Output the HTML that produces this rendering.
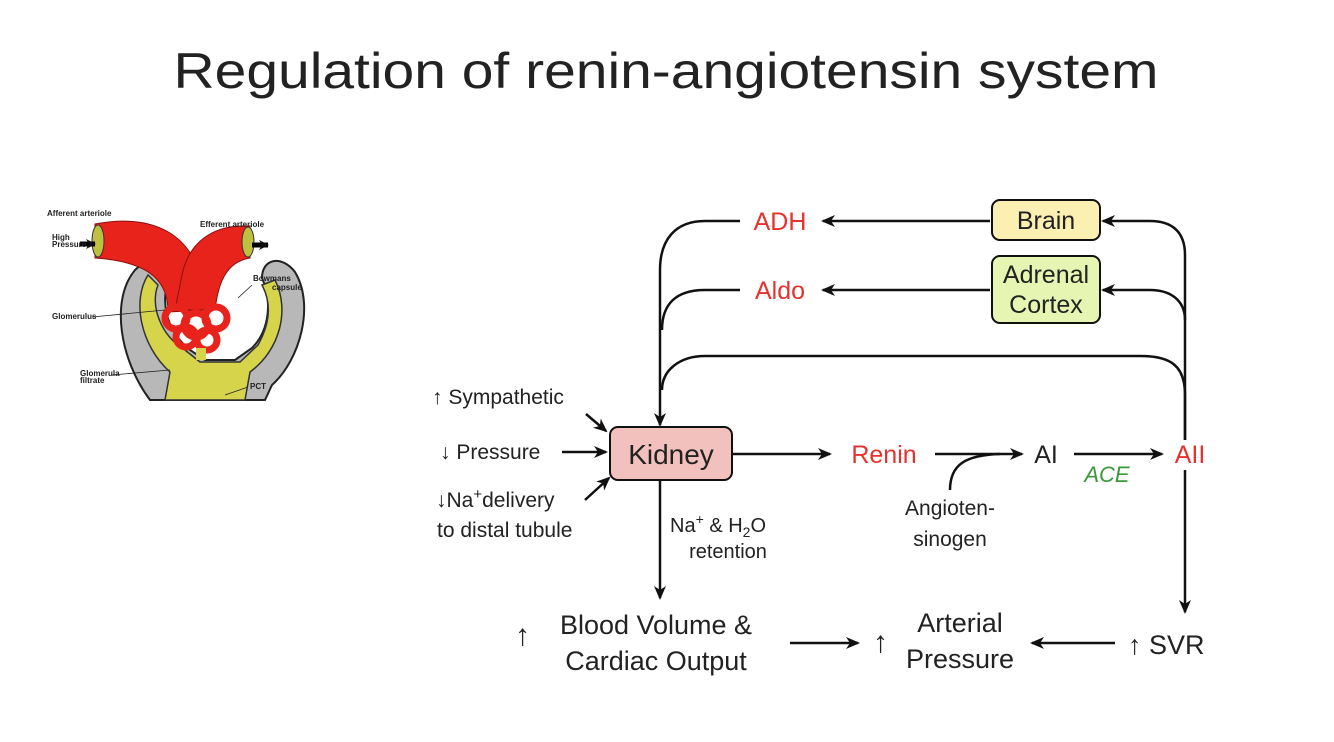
<!DOCTYPE html>
<html><head><meta charset="utf-8"><style>
body{margin:0;background:#fff;}
svg{display:block;font-family:"Liberation Sans",sans-serif;}
</style></head><body>
<svg width="1334" height="742" viewBox="0 0 1334 742" xmlns="http://www.w3.org/2000/svg">
<defs>
<marker id="ah" markerWidth="10" markerHeight="10" refX="9" refY="5" orient="auto" markerUnits="userSpaceOnUse"><path d="M0,0 L10,5 L0,10 L3,5 z" fill="#111"/></marker>
<marker id="ah2" markerWidth="14" markerHeight="12" refX="12" refY="6" orient="auto" markerUnits="userSpaceOnUse"><path d="M0,0 L14,6 L0,12 L4,6 z" fill="#111"/></marker>
</defs>
<text x="666" y="88" text-anchor="middle" font-size="50" fill="#222" textLength="985" lengthAdjust="spacingAndGlyphs">Regulation of renin-angiotensin system</text>

<!-- kidney illustration -->
<g>
<path d="M150,400 C120,360 110,300 135,270 C150,255 170,258 170,275 C160,300 165,330 190,350 L205,360 L235,360 L252,348 C270,330 272,300 262,278 C262,258 282,255 295,272 C315,305 300,360 272,385 L265,400 Z" fill="#b8b8b8" stroke="#222" stroke-width="2"/>
<path d="M165,400 L170,372 C140,345 132,300 148,275 L158,285 C150,305 160,335 185,350 L200,362 L240,362 L258,345 C272,320 270,300 262,285 L275,280 C290,310 280,350 250,372 L245,400 Z" fill="#d6d44a" stroke="#333" stroke-width="1.5"/>
<path d="M95,224 C160,212 190,240 200,275 L208,310 L168,312 C168,285 155,262 95,258 Z" fill="#e8231b" stroke="#8a1010" stroke-width="1"/>
<path d="M250,226 C210,224 188,245 182,275 L175,310 L215,310 C218,285 225,262 250,258 Z" fill="#e8231b" stroke="#8a1010" stroke-width="1"/>
<ellipse cx="98" cy="241" rx="6" ry="16" fill="#c0c040" stroke="#333"/>
<ellipse cx="248" cy="242" rx="6" ry="15" fill="#c0c040" stroke="#333"/>
<g fill="none" stroke="#e8231b" stroke-width="7">
<circle cx="176" cy="318" r="11"/><circle cx="196" cy="325" r="12"/><circle cx="216" cy="318" r="11"/><circle cx="186" cy="337" r="10"/><circle cx="207" cy="340" r="10"/>
</g>
<rect x="196" y="348" width="10" height="12" fill="#d6d44a"/>
<path d="M80,244 L95,244" stroke="#000" stroke-width="5" marker-end="url(#ah)"/>
<path d="M252,245 L268,245" stroke="#000" stroke-width="5" marker-end="url(#ah)"/>
<g font-size="8" font-weight="bold" fill="#222">
<text x="47" y="216">Afferent arteriole</text>
<text x="200" y="227">Efferent arteriole</text>
<text x="52" y="240">High</text><text x="52" y="247">Pressure</text>
<text x="253" y="281">Bowmans</text><text x="272" y="290">capsule</text>
<text x="52" y="319">Glomerulus</text>
<text x="80" y="376">Glomerula</text><text x="80" y="383">filtrate</text>
<text x="250" y="389">PCT</text>
</g>
<g stroke="#222" stroke-width="0.8"><line x1="92" y1="317" x2="165" y2="310"/><line x1="112" y1="375" x2="170" y2="370"/><line x1="248" y1="387" x2="225" y2="395"/><line x1="252" y1="285" x2="238" y2="298"/></g>
</g>

<!-- diagram -->
<g font-size="25" fill="#222">
<rect x="992" y="200" width="108" height="40" rx="8" fill="#fbefb2" stroke="#111" stroke-width="2"/>
<text x="1046" y="229" text-anchor="middle">Brain</text>
<rect x="992" y="256" width="108" height="67" rx="8" fill="#e7f5b2" stroke="#111" stroke-width="2"/>
<text x="1046" y="283" text-anchor="middle">Adrenal</text>
<text x="1046" y="313" text-anchor="middle">Cortex</text>
<rect x="610" y="427" width="122" height="53" rx="8" fill="#f3c1bd" stroke="#111" stroke-width="2"/>
<text x="671" y="464" text-anchor="middle" font-size="28">Kidney</text>

<text x="780" y="230" text-anchor="middle" fill="#e5322d">ADH</text>
<text x="780" y="299" text-anchor="middle" fill="#e5322d">Aldo</text>
<text x="884" y="463" text-anchor="middle" fill="#e5322d">Renin</text>
<text x="1046" y="463" text-anchor="middle">AI</text>
<text x="1190" y="463" text-anchor="middle" fill="#e5322d">AII</text>
<text x="1107" y="482" text-anchor="middle" fill="#3a9a3a" font-style="italic" font-size="22">ACE</text>
<text x="950" y="515" text-anchor="middle" font-size="21">Angioten-</text>
<text x="950" y="546" text-anchor="middle" font-size="21">sinogen</text>
<text x="670" y="532" font-size="20">Na<tspan dy="-8" font-size="14">+</tspan><tspan dy="8"> &amp; H</tspan><tspan dy="5" font-size="14">2</tspan><tspan dy="-5">O</tspan></text>
<text x="728" y="558" text-anchor="middle" font-size="20">retention</text>
<text x="432" y="404" font-size="21">↑ Sympathetic</text>
<text x="440" y="459" font-size="21">↓ Pressure</text>
<text x="436" y="507" font-size="21">↓Na<tspan dy="-8" font-size="15">+</tspan><tspan dy="8">delivery</tspan></text>
<text x="437" y="537" font-size="21">to distal tubule</text>
<text x="515" y="645" font-size="30">↑</text>
<text x="656" y="634" text-anchor="middle" font-size="27">Blood Volume &amp;</text>
<text x="656" y="670" text-anchor="middle" font-size="27">Cardiac Output</text>
<text x="873" y="652" font-size="30">↑</text>
<text x="960" y="632" text-anchor="middle" font-size="27">Arterial</text>
<text x="960" y="668" text-anchor="middle" font-size="27">Pressure</text>
<text x="1128" y="654" font-size="27">↑ SVR</text>
</g>
<g stroke="#111" stroke-width="2.5" fill="none">
<line x1="990" y1="221" x2="823" y2="221" marker-end="url(#ah2)"/>
<line x1="990" y1="290" x2="823" y2="290" marker-end="url(#ah2)"/>
<path d="M740,221 L705,221 C675,221 660,240 660,270 L660,425" marker-end="url(#ah2)"/>
<path d="M740,290 L705,290 C675,290 662,305 662,330"/>
<path d="M1185,440 L1185,395 C1185,365 1170,356 1140,356 L705,356 C680,356 662,370 662,390"/>
<path d="M1185,440 L1185,255 C1185,230 1170,221 1150,221 L1103,221" marker-end="url(#ah2)"/>
<path d="M1185,320 C1185,300 1170,290 1150,290 L1103,290" marker-end="url(#ah2)"/>
<path d="M1185,470 L1185,612" marker-end="url(#ah2)"/>
<line x1="733" y1="454" x2="830" y2="454" marker-end="url(#ah2)"/>
<line x1="935" y1="454" x2="1022" y2="454" marker-end="url(#ah2)"/>
<line x1="1074" y1="454" x2="1162" y2="454" marker-end="url(#ah2)"/>
<path d="M950,490 C950,465 965,455 1000,454"/>
<line x1="660" y1="481" x2="660" y2="598" marker-end="url(#ah2)"/>
<line x1="790" y1="643" x2="858" y2="643" marker-end="url(#ah2)"/>
<line x1="1115" y1="643" x2="1032" y2="643" marker-end="url(#ah2)"/>
<line x1="562" y1="452" x2="606" y2="452" marker-end="url(#ah2)"/>
<line x1="586" y1="414" x2="606" y2="431" marker-end="url(#ah2)"/>
<line x1="585" y1="500" x2="609" y2="478" marker-end="url(#ah2)"/>
</g>
</svg>
</body></html>
